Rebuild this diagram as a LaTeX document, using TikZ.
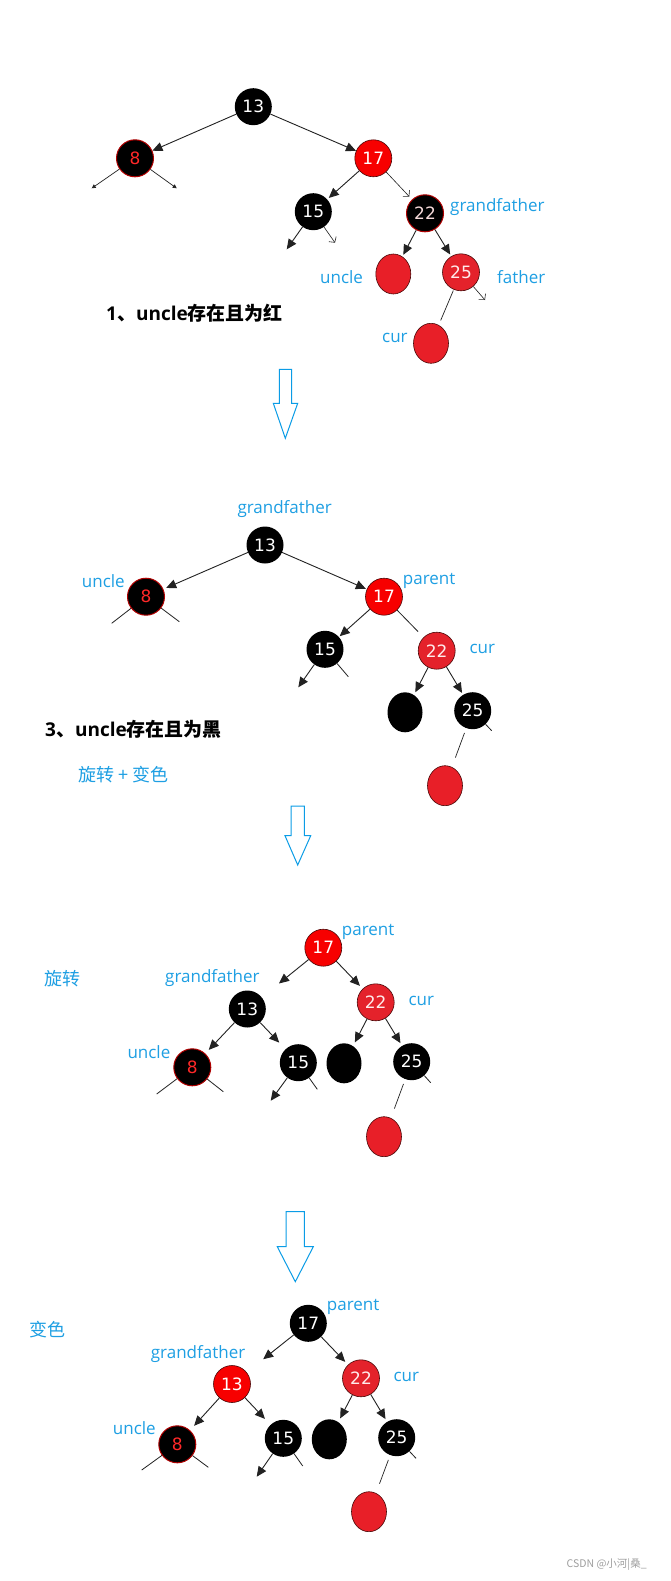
\documentclass[tikz,border=0pt]{standalone}
\usepackage{fontspec}
\usetikzlibrary{arrows.meta,shapes.geometric}
\newfontfamily\numfont{DejaVu Sans}
\newfontfamily\labfont{Open Sans}
\newfontfamily\cjk{Noto Sans CJK SC}
\definecolor{labblue}{HTML}{1E9FE3}
\definecolor{arrblue}{HTML}{0A9CE6}
\definecolor{redA}{HTML}{F70000}
\definecolor{redB}{HTML}{E4222B}
\definecolor{redC}{HTML}{E81F28}
\definecolor{rim}{HTML}{4A0808}
\definecolor{rimred}{HTML}{B00000}
\definecolor{txtred}{HTML}{FF2828}
\definecolor{txtpink}{HTML}{F6DADA}
\definecolor{edgecol}{HTML}{222222}
\begin{document}
\begin{tikzpicture}[x=1pt,y=-1pt,
  nd/.style={circle,minimum size=37pt,inner sep=0pt,font=\numfont\fontsize{17}{17}\selectfont},
  bnode/.style={nd,fill=black,text=white},
  rnode/.style={nd,fill=redA,draw=rim,line width=0.6pt,text=white},
  rnodeb/.style={nd,fill=redB,draw=rim,line width=0.6pt,text=white!92!red},
  brnode/.style={nd,fill=black,draw=rimred,line width=1pt,text=txtred},
  brnodep/.style={nd,fill=black,draw=rimred,line width=1pt,text=txtpink},
  rell/.style={ellipse,minimum width=35pt,minimum height=40pt,inner sep=0pt,fill=redC,draw=rim,line width=0.6pt},
  bell/.style={ellipse,minimum width=35pt,minimum height=40pt,inner sep=0pt,fill=black},
  lab/.style={anchor=west,inner sep=0pt,text=labblue,font=\labfont\fontsize{17}{17}\selectfont},
  clab/.style={anchor=west,inner sep=0pt,text=labblue,font=\cjk\fontsize{18}{18}\selectfont},
  arr/.style={draw=edgecol,line width=0.9pt,-{Triangle[length=10pt,width=9pt]}},
  sarr/.style={draw=edgecol,line width=0.7pt,-{Triangle[length=4pt,width=4pt]}},
  barb/.style={draw=edgecol,line width=0.6pt,-{Straight Barb[length=4pt,width=9pt]}},
  pl/.style={draw=edgecol,line width=0.8pt},
  hollow/.style={draw=arrblue,line width=1pt}
]
\useasboundingbox (0,0) rectangle (670,1581);
\fill[white] (0,0) rectangle (670,1581);

% ---------------- Tree 1 ----------------
\node[bnode]   (t1a) at (253.3,106.7) {13};
\node[brnode]  (t1b) at (135,158.3) {8};
\node[rnode]   (t1c) at (373.3,158.3) {17};
\node[bnode]   (t1d) at (313.3,211.7) {15};
\node[brnodep] (t1e) at (425,213.3) {22};
\node[rell]    (t1f) at (393.3,274) {};
\node[rnodeb]  (t1g) at (461,272.3) {25};
\node[rell]    (t1h) at (431,343.3) {};
\coordinate (c1a) at (91.7,188.3);
\coordinate (c1b) at (176.7,188.3);
\coordinate (c1c) at (286.7,249.3);
\coordinate (c1d) at (335,242.7);
\coordinate (c1e) at (485,300);
\draw[arr] (t1a) -- (t1b);
\draw[arr] (t1a) -- (t1c);
\draw[sarr] (t1b) -- (c1a);
\draw[sarr] (t1b) -- (c1b);
\draw[arr,shorten >=2pt] (t1c) -- (t1d);
\draw[barb,shorten >=4pt] (t1c) -- (t1e);
\draw[arr] (t1d) -- (c1c);
\draw[barb] (t1d) -- (c1d);
\draw[arr,shorten >=2pt] (t1e) -- (t1f);
\draw[arr,shorten >=2pt] (t1e) -- (t1g);
\draw[barb] (t1g) -- (c1e);
\draw[pl,line width=0.7pt,shorten <=5pt,shorten >=1pt] (t1h) -- (t1g);
\node[lab] (l1a) at (450,206.7) {grandfather};
\node[lab] (l1b) at (320,276.7) {uncle};
\node[lab] (l1c) at (497,277) {father};
\node[lab] (l1d) at (382,338) {cur};
\node[anchor=west,inner sep=0pt,font=\fontsize{19}{19}\selectfont] (l1e) at (106,313)
  {{\labfont\bfseries 1}{\cjk\bfseries 、}{\labfont\bfseries uncle}{\cjk\bfseries 存在且为红}};

% hollow arrow 1
\draw[hollow] (279.3,369.3) -- (279.3,403.3) -- (273.3,403.3) -- (285.3,438.3)
  -- (297.7,403.3) -- (291.7,403.3) -- (291.7,369.3) -- cycle;

% ---------------- Tree 2 ----------------
\node[bnode]  (t2a) at (265,545) {13};
\node[brnode] (t2b) at (146,596.7) {8};
\node[rnode]  (t2c) at (384,596.7) {17};
\node[bnode]  (t2d) at (325,649.3) {15};
\node[rnodeb] (t2e) at (436.7,650.7) {22};
\node[bell]   (t2f) at (405,712.3) {};
\node[bnode]  (t2g) at (472.7,710.7) {25};
\node[rell]   (t2h) at (445,785.7) {};
\coordinate (c2a) at (111.7,623.3);
\coordinate (c2b) at (179.3,621.7);
\coordinate (c2c) at (298.3,687.3);
\coordinate (c2d) at (348.3,676.7);
\coordinate (c2e) at (491.7,730.7);
\draw[arr,shorten >=3pt] (t2a) -- (t2b);
\draw[arr,shorten >=1pt] (t2a) -- (t2c);
\draw[pl] (t2b) -- (c2a);
\draw[pl] (t2b) -- (c2b);
\draw[arr,shorten >=1pt] (t2c) -- (t2d);
\draw[pl,shorten >=8pt] (t2c) -- (t2e);
\draw[arr] (t2d) -- (c2c);
\draw[pl] (t2d) -- (c2d);
\draw[arr,shorten >=3pt] (t2e) -- (t2f);
\draw[arr,shorten >=2pt] (t2e) -- (t2g);
\draw[pl] (t2g) -- (c2e);
\draw[pl,line width=0.7pt,shorten <=5pt,shorten >=10pt] (t2g) -- (t2h);
\node[lab] (l2a) at (237.3,509.3) {grandfather};
\node[lab] (l2b) at (81.7,581) {uncle};
\node[lab] (l2c) at (402.7,580.7) {parent};
\node[lab] (l2d) at (469.3,649.3) {cur};
\node[anchor=west,inner sep=0pt,font=\fontsize{19}{19}\selectfont] (l2e) at (45,729.3)
  {{\labfont\bfseries 3}{\cjk\bfseries 、}{\labfont\bfseries uncle}{\cjk\bfseries 存在且为黑}};
\node[clab] (l2f) at (78.3,775) {旋转 + 变色};

% hollow arrow 2
\draw[hollow] (291,806) -- (291,835.7) -- (285,835.7) -- (297.7,865)
  -- (310.7,835.7) -- (304.3,835.7) -- (304.3,806) -- cycle;

% ---------------- Tree 3 ----------------
\node[rnode]  (t3a) at (323.3,947.7) {17};
\node[bnode]  (t3b) at (247.3,1009) {13};
\node[rnodeb] (t3c) at (375.7,1002.3) {22};
\node[brnode] (t3d) at (192.3,1067.3) {8};
\node[bnode]  (t3e) at (298.3,1062.7) {15};
\node[bell]   (t3f) at (344,1063.3) {};
\node[bnode]  (t3g) at (411.7,1061.7) {25};
\node[rell]   (t3h) at (384,1136.7) {};
\coordinate (c3a) at (156.7,1094);
\coordinate (c3b) at (223.3,1091.7);
\coordinate (c3c) at (270.7,1100.7);
\coordinate (c3d) at (317.3,1089.3);
\coordinate (c3e) at (430.7,1082.7);
\draw[arr,shorten >=22pt] (t3a) -- (t3b);
\draw[arr,shorten >=4pt] (t3a) -- (t3c);
\draw[arr,shorten >=5pt] (t3b) -- (t3d);
\draw[arr,shorten >=9pt] (t3b) -- (t3e);
\draw[arr,shorten >=4pt] (t3c) -- (t3f);
\draw[arr,shorten >=3pt] (t3c) -- (t3g);
\draw[pl] (t3d) -- (c3a);
\draw[pl] (t3d) -- (c3b);
\draw[arr] (t3e) -- (c3c);
\draw[pl] (t3e) -- (c3d);
\draw[pl] (t3g) -- (c3e);
\draw[pl,line width=0.7pt,shorten <=5pt,shorten >=10pt] (t3g) -- (t3h);
\node[clab] (l3a) at (44,979) {旋转};
\node[lab] (l3b) at (341.7,931.7) {parent};
\node[lab] (l3c) at (165,978.3) {grandfather};
\node[lab] (l3d) at (408.3,1000.7) {cur};
\node[lab] (l3e) at (127.3,1052.3) {uncle};

% hollow arrow 3
\draw[hollow] (286,1211.7) -- (286,1246.7) -- (277.3,1246.7) -- (295.3,1281.7)
  -- (313.3,1246.7) -- (304.3,1246.7) -- (304.3,1211.7) -- cycle;

% ---------------- Tree 4 ----------------
\node[bnode]  (t4a) at (308.3,1323.3) {17};
\node[rnode]  (t4b) at (232,1384) {13};
\node[rnodeb] (t4c) at (361,1378.3) {22};
\node[brnode] (t4d) at (177.3,1444.3) {8};
\node[bnode]  (t4e) at (283.3,1438.3) {15};
\node[bell]   (t4f) at (329.3,1439.3) {};
\node[bnode]  (t4g) at (396.7,1437.7) {25};
\node[rell]   (t4h) at (369,1511.7) {};
\coordinate (c4a) at (141.7,1470);
\coordinate (c4b) at (208.3,1467.3);
\coordinate (c4c) at (256.7,1476.7);
\coordinate (c4d) at (302.7,1466);
\coordinate (c4e) at (416,1458.3);
\draw[arr,shorten >=21pt] (t4a) -- (t4b);
\draw[arr,shorten >=4pt] (t4a) -- (t4c);
\draw[arr,shorten >=6pt] (t4b) -- (t4d);
\draw[arr,shorten >=8pt] (t4b) -- (t4e);
\draw[arr,shorten >=4pt] (t4c) -- (t4f);
\draw[arr,shorten >=3pt] (t4c) -- (t4g);
\draw[pl] (t4d) -- (c4a);
\draw[pl] (t4d) -- (c4b);
\draw[arr] (t4e) -- (c4c);
\draw[pl] (t4e) -- (c4d);
\draw[pl] (t4g) -- (c4e);
\draw[pl,line width=0.7pt,shorten <=5pt,shorten >=10pt] (t4g) -- (t4h);
\node[clab] (l4a) at (29.3,1330) {变色};
\node[lab] (l4b) at (326.7,1307.3) {parent};
\node[lab] (l4c) at (150.7,1354.3) {grandfather};
\node[lab] (l4d) at (393.3,1376.7) {cur};
\node[lab] (l4e) at (112.7,1427.7) {uncle};

% watermark
\node[anchor=west,inner sep=0pt,text=black!38,font=\cjk\fontsize{10.5}{10.5}\selectfont] (wm) at (566.5,1565) {CSDN @小河|桑\_};
\end{tikzpicture}
\end{document}
